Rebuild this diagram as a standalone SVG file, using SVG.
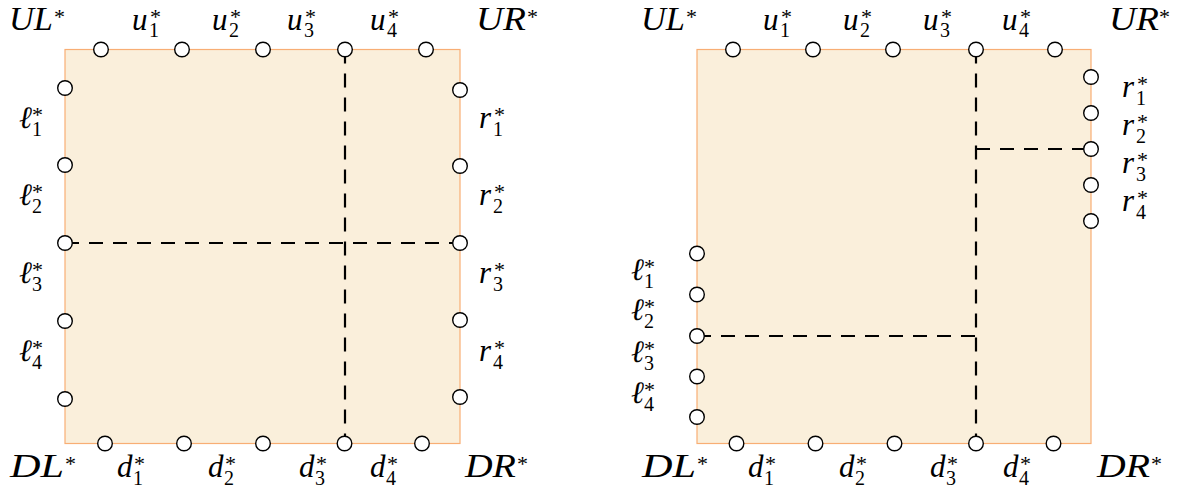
<svg xmlns="http://www.w3.org/2000/svg" width="1179" height="492" viewBox="0 0 1179 492">
<style>
.sq{fill:#FAEFDB;stroke:#F8AE74;stroke-width:1.2}
.dl{fill:none;stroke:#000;stroke-width:2.2;stroke-dasharray:14 10}
.pt{fill:#fff;stroke:#000;stroke-width:1.4}
.m{font-family:"Liberation Serif","DejaVu Serif",serif;font-style:italic;font-size:31px;fill:#000}
.c{font-size:33px}
.s{font-family:"Liberation Serif","DejaVu Serif",serif;font-style:normal;font-size:20px}
.st{font-family:"Liberation Serif","DejaVu Serif",serif;font-style:normal;font-size:22px;fill:#000}
</style>
<rect width="1179" height="492" fill="#fff"/>
<g id="left-square"><rect class="sq" x="65" y="49.5" width="395" height="394"/></g>
<g id="right-square"><rect class="sq" x="697" y="49.5" width="394" height="394"/></g>
<g id="connectors">
<line class="dl" x1="65" y1="243" x2="460" y2="243"/>
<line class="dl" x1="345" y1="49.5" x2="345" y2="443.5"/>
<line class="dl" x1="976" y1="49.5" x2="976" y2="443.5"/>
<line class="dl" x1="976" y1="149" x2="1091" y2="149"/>
<line class="dl" x1="697" y1="336" x2="976" y2="336"/>
</g>
<g id="left-ports">
<circle class="pt" cx="101" cy="49.5" r="7.3"/><circle class="pt" cx="182" cy="49.5" r="7.3"/><circle class="pt" cx="263" cy="49.5" r="7.3"/><circle class="pt" cx="345" cy="49.5" r="7.3"/><circle class="pt" cx="426" cy="49.5" r="7.3"/>
<circle class="pt" cx="65" cy="88" r="7.3"/><circle class="pt" cx="65" cy="165" r="7.3"/><circle class="pt" cx="65" cy="243" r="7.3"/><circle class="pt" cx="65" cy="321" r="7.3"/><circle class="pt" cx="65" cy="399" r="7.3"/>
<circle class="pt" cx="460" cy="90" r="7.3"/><circle class="pt" cx="460" cy="166" r="7.3"/><circle class="pt" cx="460" cy="243" r="7.3"/><circle class="pt" cx="460" cy="320" r="7.3"/><circle class="pt" cx="460" cy="397" r="7.3"/>
<circle class="pt" cx="105" cy="443.5" r="7.3"/><circle class="pt" cx="184" cy="443.5" r="7.3"/><circle class="pt" cx="263" cy="443.5" r="7.3"/><circle class="pt" cx="344.5" cy="443.5" r="7.3"/><circle class="pt" cx="422" cy="443.5" r="7.3"/>
</g>
<g id="right-ports">
<circle class="pt" cx="733" cy="49.5" r="7.3"/><circle class="pt" cx="813" cy="49.5" r="7.3"/><circle class="pt" cx="893" cy="49.5" r="7.3"/><circle class="pt" cx="976" cy="49.5" r="7.3"/><circle class="pt" cx="1055" cy="49.5" r="7.3"/>
<circle class="pt" cx="1091" cy="77" r="7.3"/><circle class="pt" cx="1091" cy="113" r="7.3"/><circle class="pt" cx="1091" cy="149" r="7.3"/><circle class="pt" cx="1091" cy="185" r="7.3"/><circle class="pt" cx="1091" cy="221" r="7.3"/>
<circle class="pt" cx="697" cy="253.5" r="7.3"/><circle class="pt" cx="697" cy="294.5" r="7.3"/><circle class="pt" cx="697" cy="336" r="7.3"/><circle class="pt" cx="697" cy="376.5" r="7.3"/><circle class="pt" cx="697" cy="417" r="7.3"/>
<circle class="pt" cx="736.5" cy="443.5" r="7.3"/><circle class="pt" cx="815.5" cy="443.5" r="7.3"/><circle class="pt" cx="894.5" cy="443.5" r="7.3"/><circle class="pt" cx="976" cy="443.5" r="7.3"/><circle class="pt" cx="1053.5" cy="443.5" r="7.3"/>
</g>
<g id="left-labels">
<g id="l-UL"><text class="m c" x="9" y="30" textLength="44" lengthAdjust="spacingAndGlyphs">UL</text><text class="st" x="54" y="24">*</text></g>
<text class="m" x="132" y="29.5">u<tspan class="st" x="150" y="23.5">*</tspan><tspan class="s" x="149" y="37">1</tspan></text>
<text class="m" x="212" y="29.5">u<tspan class="st" x="230" y="23.5">*</tspan><tspan class="s" x="229" y="37">2</tspan></text>
<text class="m" x="287" y="29.5">u<tspan class="st" x="305" y="23.5">*</tspan><tspan class="s" x="304" y="37">3</tspan></text>
<text class="m" x="370" y="29.5">u<tspan class="st" x="388" y="23.5">*</tspan><tspan class="s" x="387" y="37">4</tspan></text>
<g id="l-UR"><text class="m c" x="476" y="30" textLength="50" lengthAdjust="spacingAndGlyphs">UR</text><text class="st" x="527" y="24">*</text></g>
<text class="m" x="19" y="128">ℓ<tspan class="st" x="32" y="122">*</tspan><tspan class="s" x="32" y="135.5">1</tspan></text>
<text class="m" x="19" y="205">ℓ<tspan class="st" x="32" y="199">*</tspan><tspan class="s" x="32" y="212.5">2</tspan></text>
<text class="m" x="19" y="283">ℓ<tspan class="st" x="32" y="277">*</tspan><tspan class="s" x="32" y="290.5">3</tspan></text>
<text class="m" x="19" y="361">ℓ<tspan class="st" x="32" y="355">*</tspan><tspan class="s" x="32" y="368.5">4</tspan></text>
<text class="m" x="479" y="128">r<tspan class="st" x="494" y="122">*</tspan><tspan class="s" x="493" y="135.5">1</tspan></text>
<text class="m" x="479" y="205">r<tspan class="st" x="494" y="199">*</tspan><tspan class="s" x="493" y="212.5">2</tspan></text>
<text class="m" x="479" y="283">r<tspan class="st" x="494" y="277">*</tspan><tspan class="s" x="493" y="290.5">3</tspan></text>
<text class="m" x="479" y="361">r<tspan class="st" x="494" y="355">*</tspan><tspan class="s" x="493" y="368.5">4</tspan></text>
<g id="l-DL"><text class="m c" x="10" y="477" textLength="54" lengthAdjust="spacingAndGlyphs">DL</text><text class="st" x="65" y="471">*</text></g>
<text class="m" x="117" y="477">d<tspan class="st" x="134" y="471">*</tspan><tspan class="s" x="133" y="485">1</tspan></text>
<text class="m" x="208" y="477">d<tspan class="st" x="225" y="471">*</tspan><tspan class="s" x="224" y="485">2</tspan></text>
<text class="m" x="299" y="477">d<tspan class="st" x="316" y="471">*</tspan><tspan class="s" x="315" y="485">3</tspan></text>
<text class="m" x="370" y="477">d<tspan class="st" x="387" y="471">*</tspan><tspan class="s" x="386" y="485">4</tspan></text>
<g id="l-DR"><text class="m c" x="465" y="477" textLength="51" lengthAdjust="spacingAndGlyphs">DR</text><text class="st" x="517" y="471">*</text></g>
</g>
<g id="right-labels">
<g id="r-UL"><text class="m c" x="641" y="30" textLength="44" lengthAdjust="spacingAndGlyphs">UL</text><text class="st" x="686" y="24">*</text></g>
<text class="m" x="763" y="29.5">u<tspan class="st" x="781" y="23.5">*</tspan><tspan class="s" x="780" y="37">1</tspan></text>
<text class="m" x="843" y="29.5">u<tspan class="st" x="861" y="23.5">*</tspan><tspan class="s" x="860" y="37">2</tspan></text>
<text class="m" x="923" y="29.5">u<tspan class="st" x="941" y="23.5">*</tspan><tspan class="s" x="940" y="37">3</tspan></text>
<text class="m" x="1002" y="29.5">u<tspan class="st" x="1020" y="23.5">*</tspan><tspan class="s" x="1019" y="37">4</tspan></text>
<g id="r-UR"><text class="m c" x="1109" y="30" textLength="50" lengthAdjust="spacingAndGlyphs">UR</text><text class="st" x="1159" y="24">*</text></g>
<text class="m" x="1122" y="97">r<tspan class="st" x="1137" y="91">*</tspan><tspan class="s" x="1136" y="104.5">1</tspan></text>
<text class="m" x="1122" y="135">r<tspan class="st" x="1137" y="129">*</tspan><tspan class="s" x="1136" y="142.5">2</tspan></text>
<text class="m" x="1122" y="173">r<tspan class="st" x="1137" y="167">*</tspan><tspan class="s" x="1136" y="180.5">3</tspan></text>
<text class="m" x="1122" y="211">r<tspan class="st" x="1137" y="205">*</tspan><tspan class="s" x="1136" y="218.5">4</tspan></text>
<text class="m" x="631" y="280">ℓ<tspan class="st" x="644" y="274">*</tspan><tspan class="s" x="644" y="287.5">1</tspan></text>
<text class="m" x="631" y="320">ℓ<tspan class="st" x="644" y="314">*</tspan><tspan class="s" x="644" y="327.5">2</tspan></text>
<text class="m" x="631" y="362">ℓ<tspan class="st" x="644" y="356">*</tspan><tspan class="s" x="644" y="369.5">3</tspan></text>
<text class="m" x="631" y="403">ℓ<tspan class="st" x="644" y="397">*</tspan><tspan class="s" x="644" y="410.5">4</tspan></text>
<g id="r-DL"><text class="m c" x="642" y="477" textLength="54" lengthAdjust="spacingAndGlyphs">DL</text><text class="st" x="697" y="471">*</text></g>
<text class="m" x="748" y="477">d<tspan class="st" x="765" y="471">*</tspan><tspan class="s" x="764" y="485">1</tspan></text>
<text class="m" x="839" y="477">d<tspan class="st" x="856" y="471">*</tspan><tspan class="s" x="855" y="485">2</tspan></text>
<text class="m" x="930" y="477">d<tspan class="st" x="947" y="471">*</tspan><tspan class="s" x="946" y="485">3</tspan></text>
<text class="m" x="1003" y="477">d<tspan class="st" x="1020" y="471">*</tspan><tspan class="s" x="1019" y="485">4</tspan></text>
<g id="r-DR"><text class="m c" x="1097" y="477" textLength="53" lengthAdjust="spacingAndGlyphs">DR</text><text class="st" x="1151" y="471">*</text></g>
</g>
</svg>
